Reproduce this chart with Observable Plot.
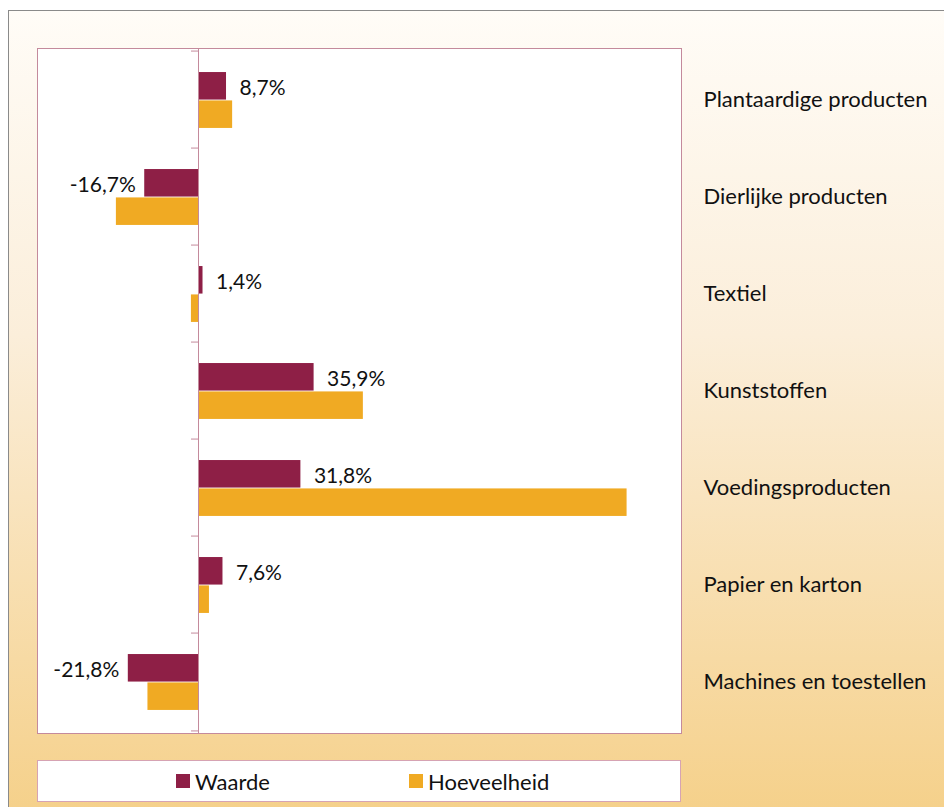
<!DOCTYPE html>
<html>
<head>
<meta charset="utf-8">
<script src="https://cdn.jsdelivr.net/npm/d3@7"></script>
<script src="https://cdn.jsdelivr.net/npm/@observablehq/plot@0.6"></script>
<style>
  html, body { margin: 0; padding: 0; background: #ffffff; }
  #page { position: relative; width: 944px; height: 807px; overflow: hidden; font-family: Lato, "Open Sans", sans-serif; }
  #bg { position: absolute; left: 8px; top: 10px; width: 950px; height: 810px;
        border-left: 1.5px solid #8a8a8a; border-top: 1.5px solid #8a8a8a;
        background: linear-gradient(to bottom, #fffcf7 0%, #fbeeda 40%, #f5d089 100%); }
  #chart { position: absolute; left: 0; top: 0; }
  #legend { position: absolute; left: 37px; top: 760px; width: 642px; height: 40px;
            background: #ffffff; border: 1px solid #d6a3b3; }
  .item { position: absolute; top: 0; height: 40px; display: flex; align-items: center; font-size: 22px; color: #111; }
  .sw { width: 14px; height: 14px; margin-right: 5px; }
</style>
</head>
<body>
<div id="page">
  <div id="bg"></div>
  <div id="chart"></div>
  <div id="legend"></div>
</div>
<script>
const categories = ["Plantaardige producten", "Dierlijke producten", "Textiel", "Kunststoffen", "Voedingsproducten", "Papier en karton", "Machines en toestellen"];
const series = ["Waarde", "Hoeveelheid"];
const waarde = [8.7, -16.7, 1.4, 35.9, 31.8, 7.6, -21.8];
const hoeveelheid = [10.6, -25.5, -2.2, 51.2, 133.1, 3.4, -15.7];
const colors = ["#8e1f46", "#f0aa23"];

const rowsW = categories.map((c, i) => ({category: c, value: waarde[i]}));
const rowsH = categories.map((c, i) => ({category: c, value: hoeveelheid[i]}));
const fmt = v => v.toFixed(1).replace(".", ",") + "%";

const W = 944, H = 745, mT = 48, mB = 12, mL = 37, mR = 263;
const band = (H - mT - mB) / categories.length; // ~97.9 px per category
const barH = band * 0.29;
const topPad = band * 0.215;
const axisColor = "#c48a9c";
const font = "Lato, 'Open Sans', sans-serif";
const labelDy = topPad + barH / 2 - band / 2 + 2;

const chart = Plot.plot({
  width: W, height: H,
  marginTop: mT, marginBottom: mB, marginLeft: mL, marginRight: mR,
  style: {background: "transparent", overflow: "visible"},
  x: {domain: [-50, 150], axis: null},
  y: {domain: categories, padding: 0, axis: null},
  marks: [
    Plot.frame({fill: "white", stroke: axisColor, strokeWidth: 1}),
    Plot.barX(rowsW, {x: "value", y: "category", fill: colors[0],
      insetTop: topPad, insetBottom: band - topPad - barH}),
    Plot.barX(rowsH, {x: "value", y: "category", fill: colors[1],
      insetTop: topPad + barH, insetBottom: band - topPad - 2 * barH}),
    Plot.ruleX([0], {stroke: axisColor, strokeWidth: 1}),
    Plot.ruleY(categories, {y: d => d, x1: 0, x2: 0, dy: -band / 2, insetLeft: -7, stroke: axisColor}),
    Plot.ruleY([categories[categories.length - 1]], {y: d => d, x1: 0, x2: 0, dy: band / 2, insetLeft: -7, stroke: axisColor}),
    Plot.text(rowsW.filter(d => d.value >= 0), {x: "value", y: "category", text: d => fmt(d.value),
      dy: labelDy, dx: 13, textAnchor: "start",
      fontSize: 21, fill: "#111", fontFamily: font}),
    Plot.text(rowsW.filter(d => d.value < 0), {x: "value", y: "category", text: d => fmt(d.value),
      dy: labelDy, dx: -9, textAnchor: "end",
      fontSize: 21, fill: "#111", fontFamily: font}),
    Plot.text(categories, {y: d => d, frameAnchor: "right", dx: 22, textAnchor: "start",
      text: d => d, fontSize: 22, fill: "#111", fontFamily: font})
  ]
});
document.getElementById("chart").appendChild(chart);

const legend = document.getElementById("legend");
const legendX = [138, 371];
series.forEach((s, i) => {
  const item = document.createElement("div");
  item.className = "item";
  item.style.left = legendX[i] + "px";
  item.innerHTML = `<span class="sw" style="background:${colors[i]}"></span><span>${s}</span>`;
  legend.appendChild(item);
});
</script>
</body>
</html>
